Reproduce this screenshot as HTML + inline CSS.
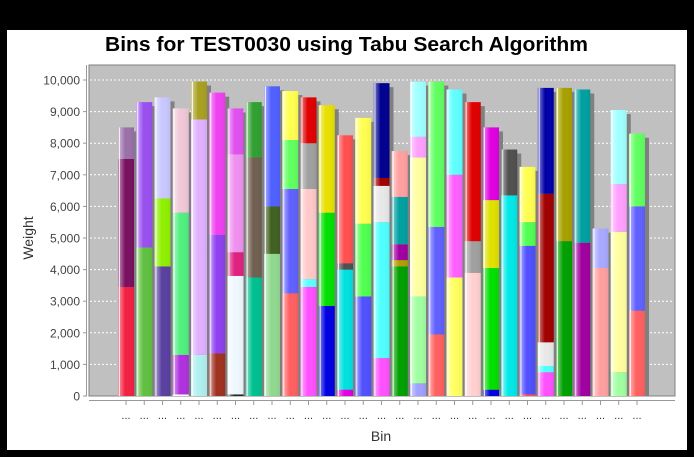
<!DOCTYPE html>
<html><head><meta charset="utf-8"><style>
body{margin:0;background:#000;width:694px;height:457px;overflow:hidden}
svg{display:block;font-family:"Liberation Sans",sans-serif}
</style></head><body>
<svg id="c" width="694" height="457">
<defs><linearGradient id="sh" x1="0" x2="1"><stop offset="0" stop-color="#fff" stop-opacity="0.55"/><stop offset="0.45" stop-color="#fff" stop-opacity="0"/><stop offset="1" stop-color="#000" stop-opacity="0.05"/></linearGradient></defs>
<rect x="7" y="30" width="680" height="420" fill="#fff"/>
<text x="105" y="51" font-size="20" font-weight="bold" fill="#000" textLength="483" lengthAdjust="spacingAndGlyphs">Bins for TEST0030 using Tabu Search Algorithm</text>
<rect x="89" y="65" width="586" height="331" fill="#c0c0c0" stroke="#808080"/>
<g id="grid"></g><g id="shadows"></g><g id="bars"></g><g id="axes"></g>
<text x="381" y="441" text-anchor="middle" font-size="14" fill="#333">Bin</text>
<text transform="translate(33,238) rotate(-90)" text-anchor="middle" font-size="14" fill="#333">Weight</text>
</svg>
<script>
const yTicks=[0,1000,2000,3000,4000,5000,6000,7000,8000,9000,10000];
const yTickLabels=["0","1,000","2,000","3,000","4,000","5,000","6,000","7,000","8,000","9,000","10,000"];
const segments=[
[3450,4050,1000],[4700,4600],[4100,2150,3200],[50,1250,4500,3300],[1300,7450,1200],
[1350,3750,4500],[50,3750,750,3100,1450],[3750,3800,1750],[4500,1500,3800],[3250,3300,1550,1550],
[3450,250,2850,1450,1450],[2850,2950,3400],[200,3800,200,4050],[3150,2300,3350],[1200,4300,1150,250,3000],
[4100,200,500,1500,1450],[400,2750,4400,650,1750],[1950,3400,4600],[3750,3250,2700],[3900,1000,4400],
[200,3850,2150,2300],[6350,1450],[50,4700,750,1750],[750,200,750,4700,3350],[4900,4850],
[4850,4850],[4050,1250],[750,4450,1500,2350],[2700,3300,2300]];
const categories=segments.map(()=> "...");
const colors=[
["#f22040","#7a1060","#9a70a8"],["#60c040","#9a50f0"],["#5a40a0","#90f000","#c8c8ff"],["#ffffff","#b030e0","#50f080","#f0c8d8"],["#b0f0f0","#e0b0ff","#a8a020"],
["#a03020","#9040f0","#f040f0"],["#103020","#f0f8ff","#e02080","#f090f0","#e050f0"],["#00c090","#706050","#30a030"],["#90d890","#406020","#5060ff"],["#ff6060","#6060ff","#60ff60","#ffff50"],
["#ff50ff","#60ffff","#ffc8c8","#a0a0a0","#e00000"],["#0000e0","#00e000","#e8e000"],["#e000e0","#00e0e0","#505050","#ff5050"],["#5050ff","#50ff50","#ffff50"],["#ff50ff","#50ffff","#e8e8e8","#a00000","#000090"],
["#00a000","#b0a000","#a000a0","#00a0a0","#ffa0a0"],["#a0a0ff","#a0ffa0","#ffffa0","#ffa0ff","#a0ffff"],["#ff6060","#6060ff","#60ff60"],["#ffff60","#ff60ff","#60ffff"],["#ffd0d0","#a0a0a0","#e00000"],
["#0000e0","#00e000","#e0e000","#e000e0"],["#00e8e8","#505050"],["#ff5050","#5050ff","#50ff50","#ffff50"],["#ff50ff","#50ffff","#e8e8e8","#a00000","#0000a8"],["#00a000","#a8a000"],
["#a000a0","#00a0a0"],["#ffa0a0","#a8a8ff"],["#a0ffa0","#ffffa0","#ffa0ff","#a0ffff"],["#ff6060","#6060ff","#60ff60"]];
const NS="http://www.w3.org/2000/svg";
function y(v){return 396-v*0.0316;}
function x(i){return 118+i*18.25;}
const BW=16;
function mk(p,t,a){const e=document.createElementNS(NS,t);for(const k in a)e.setAttribute(k,a[k]);p.appendChild(e);return e;}
const G=document.getElementById('grid'),S=document.getElementById('shadows'),B=document.getElementById('bars'),A=document.getElementById('axes');
yTicks.forEach((v,i)=>{
 if(v>0){const l=mk(G,'line',{x1:90,x2:674,y1:y(v),y2:y(v),stroke:'#fff','stroke-dasharray':'2,2','stroke-width':1});
 
 }
 const tk=mk(A,'line',{x1:83,x2:87,y1:y(v),y2:y(v),stroke:'#999'});
 
 
 const t=mk(A,'text',{x:80,y:y(v)+4.5,'text-anchor':'end','font-size':12,fill:'#444'});t.textContent=yTickLabels[i];
 
 
});
const ya=mk(A,'line',{x1:86.5,x2:86.5,y1:65,y2:396,stroke:'#999'});


const xa=mk(A,'line',{x1:89,x2:675,y1:400.5,y2:400.5,stroke:'#999'});


segments.forEach((segs,i)=>{
 const total=segs.reduce((a,b)=>a+b,0);
 const sh=mk(S,'rect',{x:x(i)+4,y:y(total)+4,width:BW,height:396-y(total)-4,fill:'#808080'});
 
 
 let c=0;
 segs.forEach((s,j)=>{
  const r=mk(B,'rect',{x:x(i),y:y(c+s),width:BW,height:y(c)-y(c+s),fill:colors[i][j]});
  
  
  c+=s;
 });
 const o=mk(B,'rect',{x:x(i),y:y(total),width:BW,height:396-y(total),fill:'url(#sh)'});
 
 
 const w=mk(B,'line',{x1:x(i)+1.5,x2:x(i)+1.5,y1:y(total),y2:396,stroke:'#fff','stroke-opacity':0.8});
 
 
 const cx=x(i)+BW/2;
 const tk=mk(A,'line',{x1:cx,x2:cx,y1:401,y2:405,stroke:'#999'});
 
 
 const t=mk(A,'text',{x:cx,y:419,'text-anchor':'middle','font-size':11,fill:'#333'});t.textContent=categories[i];
 
 
});
</script>
</body></html>
